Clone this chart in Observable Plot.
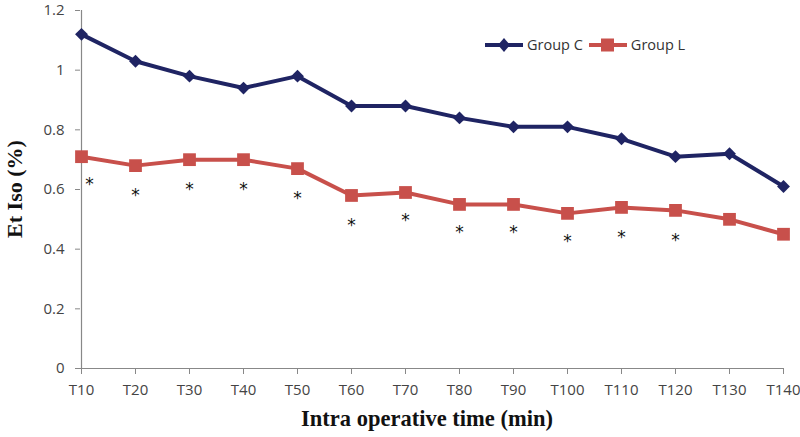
<!DOCTYPE html>
<html>
<head>
<meta charset="utf-8">
<script src="https://cdn.jsdelivr.net/npm/d3@7"></script>
<script src="https://cdn.jsdelivr.net/npm/@observablehq/plot@0.6"></script>
<style>
  html, body { margin: 0; padding: 0; background: #fff; }
  #wrap { position: relative; width: 800px; height: 437px; }
  #legend { position: absolute; left: 485px; top: 35px; display: flex; align-items: center;
    font-family: "Open Sans", "Noto Sans", sans-serif; font-size: 14.5px; color: #333; }
  #legend span.t { margin: 0 6px 0 4px; }
</style>
</head>
<body>
<div id="wrap"><div id="legend"></div></div>
<script>
const times = ["T10","T20","T30","T40","T50","T60","T70","T80","T90","T100","T110","T120","T130","T140"];
const groupC = [1.12, 1.03, 0.98, 0.94, 0.98, 0.88, 0.88, 0.84, 0.81, 0.81, 0.77, 0.71, 0.72, 0.61];
const groupL = [0.71, 0.68, 0.70, 0.70, 0.67, 0.58, 0.59, 0.55, 0.55, 0.52, 0.54, 0.53, 0.50, 0.45];
const starTimes = ["T10","T20","T30","T40","T50","T60","T70","T80","T90","T100","T110","T120"];
const starY = [0.615, 0.58, 0.60, 0.60, 0.57, 0.48, 0.495, 0.455, 0.455, 0.425, 0.44, 0.43];
const yTicks = [0, 0.2, 0.4, 0.6, 0.8, 1, 1.2];

const colorC = "#1f2463";
const colorL = "#c8504b";

const dataC = times.map((t, i) => ({time: t, value: groupC[i]}));
const dataL = times.map((t, i) => ({time: t, value: groupL[i]}));
const stars = starTimes.map((t, i) => ({time: t, value: starY[i]}));

const starStyle = {x: "time", y: "value", text: () => "*", fontSize: 17, fill: "#111",
  fontFamily: "'DejaVu Sans', sans-serif"};

const chart = Plot.plot({
  width: 800,
  height: 437,
  marginLeft: 80,
  marginRight: 17,
  marginTop: 10,
  marginBottom: 69,
  style: {fontFamily: "'Open Sans', 'Noto Sans', sans-serif", fontSize: "15px", color: "#444", background: "#fff"},
  x: {type: "point", domain: times, padding: 0},
  y: {domain: [0, 1.2]},
  marks: [
    Plot.axisY({ticks: yTicks, tickFormat: (d) => String(d), tickSize: 5, tickPadding: 11, stroke: "#888", fill: "#444", fontSize: 15, label: null}),
    Plot.axisX({tickSize: 6, tickPadding: 10, stroke: "#888", fill: "#444", fontSize: 15, label: null}),
    Plot.ruleX([times[0]], {y1: 0, y2: 1.2, stroke: "#888", strokeWidth: 1.2}),
    Plot.ruleY([0], {stroke: "#888", strokeWidth: 1.2}),
    Plot.line(dataL, {x: "time", y: "value", stroke: colorL, strokeWidth: 4}),
    Plot.dot(dataL, {x: "time", y: "value", symbol: "square", r: 7.2, fill: colorL, stroke: "none"}),
    Plot.line(dataC, {x: "time", y: "value", stroke: colorC, strokeWidth: 4}),
    Plot.dot(dataC, {x: "time", y: "value", symbol: "diamond2", r: 5.8, fill: colorC, stroke: "none"}),
    Plot.text(stars.slice(0, 1), {...starStyle, dx: 8}),
    Plot.text(stars.slice(1), starStyle)
  ]
});

const svg = d3.select(chart);
svg.append("text")
  .attr("transform", "translate(22,189) rotate(-90)")
  .attr("text-anchor", "middle")
  .attr("font-family", "'Liberation Serif', 'DejaVu Serif', serif")
  .attr("font-weight", "bold")
  .attr("font-size", 22)
  .attr("fill", "#111")
  .text("Et Iso (%)");
svg.append("text")
  .attr("x", 427).attr("y", 426)
  .attr("text-anchor", "middle")
  .attr("font-family", "'Liberation Serif', 'DejaVu Serif', serif")
  .attr("font-weight", "bold")
  .attr("font-size", 22.5)
  .attr("fill", "#111")
  .text("Intra operative time (min)");

document.getElementById("wrap").prepend(chart);

const legend = document.getElementById("legend");
legend.innerHTML = `
  <svg width="38" height="16"><line x1="0" y1="8" x2="38" y2="8" stroke="${colorC}" stroke-width="4"/>
    <path d="M19,1 L25,8 L19,15 L13,8 Z" fill="${colorC}"/></svg><span class="t">Group C</span>
  <svg width="38" height="16"><line x1="0" y1="8" x2="38" y2="8" stroke="${colorL}" stroke-width="4"/>
    <rect x="12" y="1.5" width="13" height="13" fill="${colorL}"/></svg><span class="t">Group L</span>`;
</script>
</body>
</html>
